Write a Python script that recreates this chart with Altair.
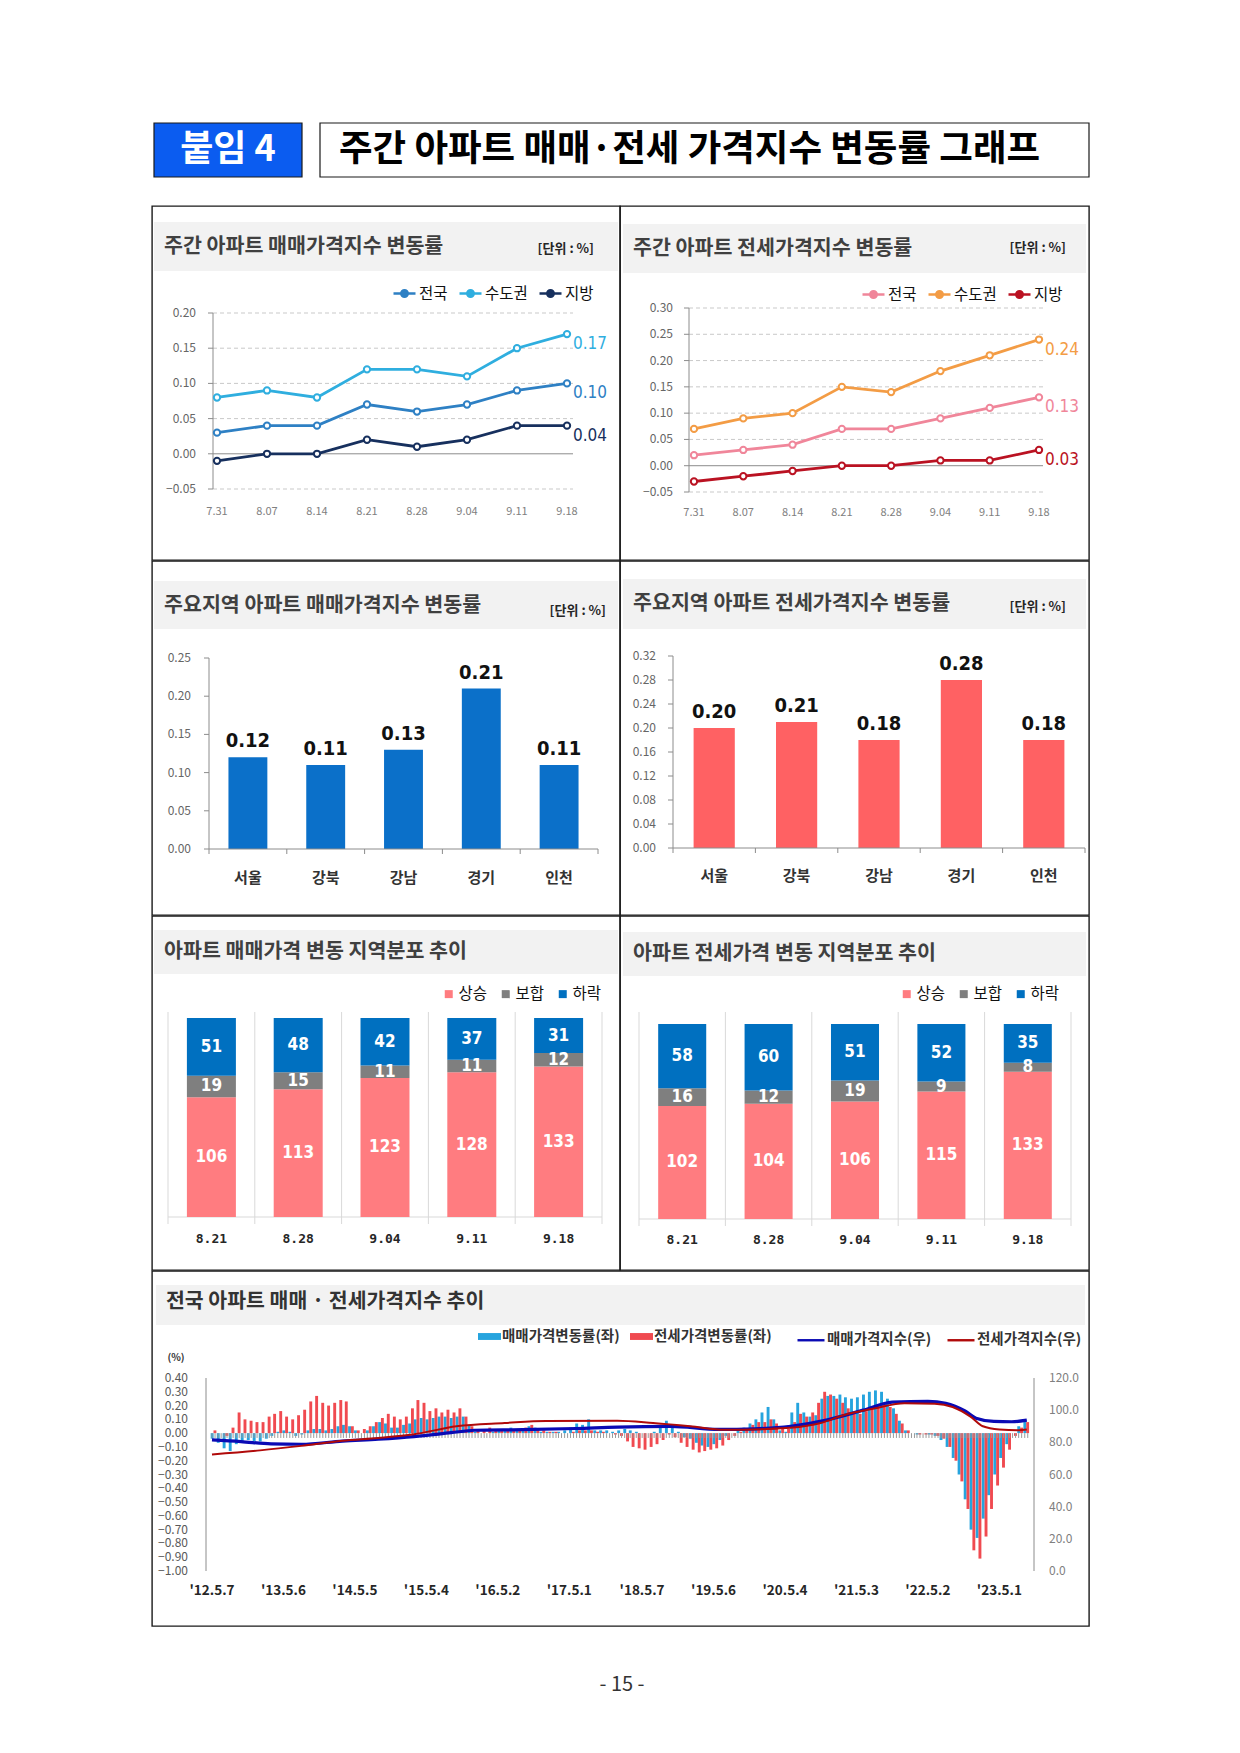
import altair as alt
import pandas as pd

KR = "Noto Sans CJK KR"
NARROW = "Liberation Sans Narrow, DejaVu Sans Condensed, Noto Sans CJK KR, sans-serif"
MONO = "DejaVu Sans Mono, monospace"

# ---------------- data ----------------
weeks = ["7.31", "8.07", "8.14", "8.21", "8.28", "9.04", "9.11", "9.18"]
area_names = ["전국", "수도권", "지방"]
sale_national = [0.03, 0.04, 0.04, 0.07, 0.06, 0.07, 0.09, 0.10]
sale_capital = [0.08, 0.09, 0.08, 0.12, 0.12, 0.11, 0.15, 0.17]
sale_local = [-0.01, 0.00, 0.00, 0.02, 0.01, 0.02, 0.04, 0.04]
jeonse_national = [0.02, 0.03, 0.04, 0.07, 0.07, 0.09, 0.11, 0.13]
jeonse_capital = [0.07, 0.09, 0.10, 0.15, 0.14, 0.18, 0.21, 0.24]
jeonse_local = [-0.03, -0.02, -0.01, 0.00, 0.00, 0.01, 0.01, 0.03]

regions = ["서울", "강북", "강남", "경기", "인천"]
sale_region = [0.12, 0.11, 0.13, 0.21, 0.11]
jeonse_region = [0.20, 0.21, 0.18, 0.28, 0.18]

dist_weeks = ["8.21", "8.28", "9.04", "9.11", "9.18"]
dist_cats = ["상승", "보합", "하락"]
sale_up = [106, 113, 123, 128, 133]
sale_flat = [19, 15, 11, 11, 12]
sale_down = [51, 48, 42, 37, 31]
jeonse_up = [102, 104, 106, 115, 133]
jeonse_flat = [16, 12, 19, 9, 8]
jeonse_down = [58, 60, 51, 52, 35]

# monthly change rates (%), May 2012 .. Sep 2023 (one line per year)
sale_rate = [
    -0.04, -0.07, -0.11, -0.13, -0.08, -0.06, -0.05, -0.06,
    -0.06, -0.04, -0.02, 0.01, 0.02, 0.01, -0.02, -0.01, 0.02, 0.03, 0.03, 0.02,
    0.03, 0.05, 0.06, 0.05, 0.02, 0.00, 0.02, 0.05, 0.08, 0.07, 0.04, 0.04,
    0.06, 0.07, 0.10, 0.11, 0.10, 0.11, 0.12, 0.12, 0.11, 0.12, 0.12, 0.06,
    0.01, 0.00, 0.00, 0.01, 0.02, 0.03, 0.04, 0.03, 0.03, 0.05, 0.04, 0.01,
    0.01, 0.01, 0.01, 0.02, 0.04, 0.07, 0.06, 0.10, 0.02, 0.02, 0.02, 0.01,
    0.02, 0.03, 0.02, 0.01, 0.00, 0.00, 0.01, 0.05, 0.09, 0.04, 0.01, -0.03,
    -0.04, -0.07, -0.09, -0.10, -0.08, -0.05, -0.02, 0.00, 0.02, 0.04, 0.07, 0.10,
    0.15, 0.19, 0.10, 0.02, 0.01, 0.15, 0.22, 0.15, 0.12, 0.13, 0.25, 0.27,
    0.27, 0.28, 0.26, 0.25, 0.26, 0.28, 0.30, 0.31, 0.30, 0.25, 0.18, 0.09,
    0.02, 0.00, -0.01, 0.00, -0.01, -0.02, -0.05, -0.10, -0.18, -0.30, -0.48, -0.70,
    -0.76, -0.62, -0.45, -0.30, -0.18, -0.08, 0.00, 0.05, 0.09,
]
jeonse_rate = [
    0.02, 0.00, -0.02, 0.04, 0.15, 0.10, 0.09, 0.08,
    0.08, 0.12, 0.14, 0.16, 0.12, 0.10, 0.13, 0.17, 0.23, 0.27, 0.22, 0.20,
    0.22, 0.24, 0.23, 0.05, 0.02, 0.03, 0.05, 0.08, 0.11, 0.14, 0.12, 0.10,
    0.12, 0.18, 0.24, 0.22, 0.16, 0.18, 0.15, 0.17, 0.15, 0.18, 0.12, 0.05,
    0.03, 0.03, 0.04, 0.03, 0.02, 0.02, 0.02, 0.03, 0.04, 0.06, 0.03, 0.02,
    0.01, 0.01, 0.00, 0.00, 0.01, 0.02, 0.02, 0.02, 0.01, 0.01, 0.00, -0.01,
    -0.02, -0.06, -0.10, -0.11, -0.12, -0.10, -0.08, -0.05, -0.01, -0.03, -0.07, -0.10,
    -0.12, -0.14, -0.13, -0.12, -0.11, -0.09, -0.05, -0.02, 0.01, 0.03, 0.06, 0.08,
    0.08, 0.10, 0.07, 0.04, 0.03, 0.08, 0.14, 0.12, 0.15, 0.22, 0.30, 0.28,
    0.25, 0.22, 0.18, 0.15, 0.14, 0.16, 0.18, 0.21, 0.22, 0.19, 0.14, 0.07,
    0.02, 0.00, -0.01, -0.01, -0.01, -0.02, -0.04, -0.10, -0.20, -0.35, -0.55, -0.85,
    -0.91, -0.75, -0.55, -0.38, -0.25, -0.12, -0.02, 0.04, 0.08,
]
months = [f"{y}-{m:02d}-15" for y in range(2012, 2024) for m in range(1, 13)
          if (2012, 5) <= (y, m) <= (2023, 9)]

sale_index_dates = ["2012-05-07", "2012-10-01", "2013-03-04", "2013-08-05", "2014-03-03",
                    "2014-09-01", "2015-03-02", "2015-09-07", "2016-01-04", "2016-09-05",
                    "2017-06-05", "2018-01-01", "2018-10-01", "2019-06-03", "2019-12-02",
                    "2020-06-01", "2020-12-07", "2021-06-07", "2021-11-01", "2022-05-02",
                    "2022-08-01", "2022-11-07", "2023-01-02", "2023-04-03", "2023-07-03",
                    "2023-09-18"]
sale_index = [81.5, 80.5, 79.0, 78.8, 80.8, 82.0, 83.6, 86.0, 87.5, 87.9, 88.6, 89.5, 89.9,
              88.0, 88.4, 90.0, 94.0, 100.0, 105.0, 105.5, 104.3, 99.5, 95.0, 93.0, 92.8, 93.8]
jeonse_index_dates = ["2012-05-07", "2013-01-07", "2013-08-05", "2014-03-03", "2014-09-01",
                      "2015-03-02", "2015-10-05", "2016-06-06", "2017-01-02", "2018-01-01",
                      "2018-07-02", "2019-01-07", "2019-07-01", "2020-01-06", "2020-06-01",
                      "2020-11-02", "2021-03-01", "2021-08-02", "2022-01-03", "2022-06-06",
                      "2022-09-05", "2022-12-05", "2023-02-06", "2023-05-01", "2023-08-07",
                      "2023-09-18"]
jeonse_index = [72.5, 75.0, 77.8, 81.0, 82.7, 85.0, 90.0, 92.0, 93.3, 93.4, 92.0, 90.0, 87.8,
                88.2, 89.0, 92.0, 97.0, 101.0, 104.3, 104.0, 102.0, 96.0, 90.0, 88.0, 87.5, 88.0]

tick_dates = ["2012-05-07", "2013-05-06", "2014-05-05", "2015-05-04", "2016-05-02", "2017-05-01",
              "2018-05-07", "2019-05-06", "2020-05-04", "2021-05-03", "2022-05-02", "2023-05-01"]
tick_texts = ["'12.5.7", "'13.5.6", "'14.5.5", "'15.5.4", "'16.5.2", "'17.5.1",
              "'18.5.7", "'19.5.6", "'20.5.4", "'21.5.3", "'22.5.2", "'23.5.1"]

PANEL_VIEW = alt.ViewBackground(stroke="#1a1a1a", strokeWidth=1.4)
NO_VIEW = alt.ViewBackground(stroke="transparent", strokeWidth=0)
GRAY_BAND = "#F2F2F2"
TITLE_SIZE = 20.6
LINE_SYM = "M-1,0H-0.3M0.3,0H1M0.3,0A0.3,0.3,0,1,1,-0.3,0A0.3,0.3,0,1,1,0.3,0Z"


def dummy():
    return pd.DataFrame({"k": [0]})


def rect(x1, x2, y1, y2, fill, stroke="transparent", sw=0):
    return alt.Chart(dummy()).mark_rect(fill=fill, stroke=stroke, strokeWidth=sw).encode(
        x=alt.value(x1), x2=alt.value(x2), y=alt.value(y1), y2=alt.value(y2))


def text(s, x, y, size, color="#404040", weight="bold", align="left", font=KR):
    return alt.Chart(pd.DataFrame({"t": [s]})).mark_text(
        align=align, baseline="middle", fontSize=size, fontWeight=weight, color=color, font=font
    ).encode(x=alt.value(x), y=alt.value(y), text="t:N")


def line_panel(width, series, colors, ydom, yticks, yrng, xrng, axis_x, grid_x2, lab_x, xlab_y,
               band_box, title, title_xy, unit_xy, leg_xy):
    rows = [{"week": w, "series": n, "value": v}
            for n, vals in zip(area_names, series) for w, v in zip(weeks, vals)]
    df = pd.DataFrame(rows)
    last = df[df["week"] == weeks[-1]]
    xs = alt.Scale(type="point", domain=weeks, range=xrng, padding=0)
    ys = alt.Scale(domain=ydom, range=yrng)
    cs = alt.Scale(domain=area_names, range=colors)
    X = alt.X("week:N", scale=xs, axis=None)
    Y = alt.Y("value:Q", scale=ys, axis=None)
    tk = pd.DataFrame({"v": yticks})
    TY = alt.Y("v:Q", scale=ys, axis=None)
    leg = alt.Legend(orient="none", legendX=leg_xy[0], legendY=leg_xy[1], direction="horizontal",
                     title=None, symbolType=LINE_SYM, symbolSize=484, symbolStrokeWidth=2.4,
                     symbolFillColor="white", labelFont=KR, labelFontSize=15.5, labelColor="#111",
                     labelOffset=2, columnPadding=6, padding=0)
    layers = [
        rect(*band_box, fill=GRAY_BAND),
        text(title, *title_xy, TITLE_SIZE),
        text("[단위 : %]", *unit_xy, 13, color="#262626", align="right"),
        alt.Chart(tk).transform_filter("datum.v != 0").mark_rule(
            color="#C9C9C9", strokeDash=[4, 3]).encode(y=TY, x=alt.value(axis_x), x2=alt.value(grid_x2)),
        alt.Chart(dummy()).mark_rule(color="#8C8C8C").encode(
            y=alt.YDatum(0, scale=ys, axis=None), x=alt.value(axis_x), x2=alt.value(grid_x2)),
        alt.Chart(dummy()).mark_rule(color="#8C8C8C").encode(
            y=alt.YDatum(ydom[0], scale=ys, axis=None), y2=alt.Y2Datum(ydom[1]), x=alt.value(axis_x)),
        alt.Chart(tk).mark_rule(color="#8C8C8C").encode(
            y=TY, x=alt.value(axis_x - 5), x2=alt.value(axis_x)),
        alt.Chart(tk).mark_text(align="right", baseline="middle", fontSize=12, color="#666666",
                                font=KR).encode(y=TY, x=alt.value(lab_x),
                                                text=alt.Text("v:Q", format=".2f")),
        alt.Chart(pd.DataFrame({"week": weeks})).mark_text(
            baseline="middle", fontSize=11, color="#808080", font=KR).encode(
            x=X, y=alt.value(xlab_y), text="week:N"),
        alt.Chart(df).mark_line(strokeWidth=2.8).encode(
            x=X, y=Y, color=alt.Color("series:N", scale=cs, legend=leg)),
        alt.Chart(df).mark_point(filled=False, fill="white", size=40, strokeWidth=2, opacity=1).encode(
            x=X, y=Y, color=alt.Color("series:N", scale=cs, legend=None)),
        alt.Chart(last).mark_text(align="left", baseline="middle", dx=6, dy=10, fontSize=17,
                                  font=NARROW).encode(
            x=X, y=Y, color=alt.Color("series:N", scale=cs, legend=None),
            text=alt.Text("value:Q", format=".2f")),
    ]
    return alt.layer(*layers).properties(width=width, height=354, view=PANEL_VIEW)


def bar_panel(width, values, color, ydom, yticks, yrng, xrng, axis_x, lab_x, cat_y,
              band_box, title, title_xy, unit_xy):
    df = pd.DataFrame({"region": regions, "value": values})
    xs = alt.Scale(type="band", domain=regions, range=xrng, paddingInner=0.5, paddingOuter=0.25)
    ys = alt.Scale(domain=ydom, range=yrng)
    half = (xrng[1] - xrng[0]) / 5 / 2
    X = alt.X("region:N", scale=xs, axis=None)
    Y = alt.Y("value:Q", scale=ys, axis=None)
    tk = pd.DataFrame({"v": yticks})
    TY = alt.Y("v:Q", scale=ys, axis=None)
    base = yrng[0]
    layers = [
        rect(*band_box, fill=GRAY_BAND),
        text(title, *title_xy, TITLE_SIZE),
        text("[단위 : %]", *unit_xy, 13, color="#262626", align="right"),
        alt.Chart(df).mark_bar(color=color).encode(x=X, y=Y),
        alt.Chart(df).mark_text(baseline="bottom", dy=-6, fontSize=20, fontWeight="bold",
                                font=NARROW, color="#111111").encode(
            x=X, y=Y, text=alt.Text("value:Q", format=".2f")),
        alt.Chart(dummy()).mark_rule(color="#8C8C8C").encode(
            y=alt.YDatum(ydom[0], scale=ys, axis=None), y2=alt.Y2Datum(ydom[1]), x=alt.value(axis_x)),
        alt.Chart(tk).mark_rule(color="#8C8C8C").encode(
            y=TY, x=alt.value(axis_x - 5), x2=alt.value(axis_x)),
        alt.Chart(tk).mark_text(align="right", baseline="middle", fontSize=12, color="#666666",
                                font=KR).encode(y=TY, x=alt.value(lab_x),
                                                text=alt.Text("v:Q", format=".2f")),
        alt.Chart(dummy()).mark_rule(color="#8C8C8C").encode(
            y=alt.YDatum(0, scale=ys, axis=None), x=alt.value(xrng[0]), x2=alt.value(xrng[1])),
        alt.Chart(df).mark_rule(color="#8C8C8C", xOffset=-half).encode(
            x=X, y=alt.value(base), y2=alt.value(base + 5)),
        alt.Chart(df.tail(1)).mark_rule(color="#8C8C8C", xOffset=half).encode(
            x=X, y=alt.value(base), y2=alt.value(base + 5)),
        alt.Chart(df).mark_text(baseline="middle", fontSize=15, fontWeight="bold",
                                color="#333333", font=KR).encode(
            x=X, y=alt.value(cat_y), text="region:N"),
    ]
    return alt.layer(*layers).properties(width=width, height=354, view=PANEL_VIEW)


def dist_panel(width, up, flat, down, yrng, xrng, pad_inner, sep_y, xlab_y,
               band_box, title, title_xy, leg_xy):
    rows = []
    for i, w in enumerate(dist_weeks):
        for o, (c, vals) in enumerate(zip(dist_cats, [up, flat, down])):
            rows.append({"week": w, "cat": c, "value": vals[i], "ord": o})
    df = pd.DataFrame(rows)
    xs = alt.Scale(type="band", domain=dist_weeks, range=xrng,
                   paddingInner=pad_inner, paddingOuter=pad_inner / 2)
    ys = alt.Scale(domain=[0, 176], range=yrng)
    half = (xrng[1] - xrng[0]) / 5 / 2
    X = alt.X("week:N", scale=xs, axis=None)
    cs = alt.Scale(domain=dist_cats, range=["#FF7C80", "#7F7F7F", "#0070C0"])
    leg = alt.Legend(orient="none", legendX=leg_xy[0], legendY=leg_xy[1], direction="horizontal",
                     title=None, symbolType="square", symbolSize=64, symbolStrokeWidth=0,
                     labelFont=KR, labelFontSize=15.5, labelColor="#111", labelOffset=2,
                     columnPadding=10, padding=0)
    wk = pd.DataFrame({"week": dist_weeks})
    layers = [
        rect(*band_box, fill=GRAY_BAND),
        text(title, *title_xy, TITLE_SIZE),
        alt.Chart(wk).mark_rule(color="#D9D9D9", xOffset=-half).encode(
            x=X, y=alt.value(sep_y[0]), y2=alt.value(sep_y[1])),
        alt.Chart(wk.tail(1)).mark_rule(color="#D9D9D9", xOffset=half).encode(
            x=X, y=alt.value(sep_y[0]), y2=alt.value(sep_y[1])),
        alt.Chart(dummy()).mark_rule(color="#D9D9D9").encode(
            y=alt.YDatum(0, scale=ys, axis=None), x=alt.value(xrng[0]), x2=alt.value(xrng[1])),
        alt.Chart(df).mark_bar().encode(
            x=X, y=alt.Y("value:Q", stack="zero", scale=ys, axis=None),
            order=alt.Order("ord:Q", sort="ascending"),
            color=alt.Color("cat:N", scale=cs, legend=leg)),
        alt.Chart(df).transform_stack(
            stack="value", as_=["y0", "y1"], groupby=["week"],
            sort=[alt.SortField("ord", order="ascending")]
        ).transform_calculate(mid="(datum.y0 + datum.y1) / 2").mark_text(
            baseline="middle", fontSize=17, fontWeight="bold", color="white", font=NARROW).encode(
            x=X, y=alt.Y("mid:Q", scale=ys, axis=None), text="value:Q"),
        alt.Chart(wk).mark_text(baseline="middle", fontSize=13, fontWeight="bold",
                                color="#262626", font=MONO).encode(
            x=X, y=alt.value(xlab_y), text="week:N"),
    ]
    return alt.layer(*layers).properties(width=width, height=354, view=PANEL_VIEW)


# ---------------- row 1 ----------------
p1 = line_panel(468, [sale_national, sale_capital, sale_local],
                ["#2E80C4", "#2FAEDF", "#17305E"],
                [-0.05, 0.20], [-0.05, 0.0, 0.05, 0.10, 0.15, 0.20], [283, 107], [65, 415],
                61, 421, 44, 306, (2, 466, 16, 65),
                "주간 아파트 매매가격지수 변동률", (12, 41), (442, 43), (240, 75))
p2 = line_panel(469, [jeonse_national, jeonse_capital, jeonse_local],
                ["#F0869A", "#F39C45", "#BA1222"],
                [-0.05, 0.30], [-0.05, 0.0, 0.05, 0.10, 0.15, 0.20, 0.25, 0.30], [286, 102], [74, 419],
                69, 423, 53, 307, (3, 466, 18, 67),
                "주간 아파트 전세가격지수 변동률", (13, 43), (446, 42), (241, 76))

# ---------------- row 2 ----------------
p3 = bar_panel(468, sale_region, "#0B70C9", [0, 0.25], [0, 0.05, 0.10, 0.15, 0.20, 0.25],
               [288, 97], [57, 446], 57, 39, 317, (2, 466, 20, 68),
               "주요지역 아파트 매매가격지수 변동률", (12, 45), (454, 50))
p4 = bar_panel(469, jeonse_region, "#FF6163", [0, 0.32],
               [0, 0.04, 0.08, 0.12, 0.16, 0.20, 0.24, 0.28, 0.32],
               [287, 95], [53, 465], 53, 36, 315, (3, 466, 18, 68),
               "주요지역 아파트 전세가격지수 변동률", (13, 43), (446, 46))

# ---------------- row 3 ----------------
p5 = dist_panel(468, sale_up, sale_flat, sale_down, [301, 102], [16, 450], 0.4355, (96, 308), 323,
                (2, 466, 14, 58), "아파트 매매가격 변동 지역분포 추이", (12, 36), (289, 70))
p6 = dist_panel(469, jeonse_up, jeonse_flat, jeonse_down, [303, 108], [19, 451], 0.444, (96, 310), 324,
                (3, 466, 16, 60), "아파트 전세가격 변동 지역분포 추이", (13, 38), (279, 70))

# ---------------- row 4 ----------------
rates = pd.DataFrame({"date": months, "sale": sale_rate, "jeonse": jeonse_rate})
sidx = pd.DataFrame({"date": sale_index_dates, "value": sale_index})
jidx = pd.DataFrame({"date": jeonse_index_dates, "value": jeonse_index})
xs7 = alt.Scale(type="time",
                domain=[alt.DateTime(year=2012, month=4, date=30, utc=True),
                        alt.DateTime(year=2023, month=9, date=25, utc=True)],
                range=[53.6, 881.2])
yl = alt.Scale(domain=[-1.0, 0.4], range=[300, 107])
yr = alt.Scale(domain=[0, 120], range=[300, 107])
X7 = alt.X("date:T", scale=xs7, axis=None)
fill_names = ["매매가격변동률(좌)", "전세가격변동률(좌)"]
stroke_names = ["매매가격지수(우)", "전세가격지수(우)"]
fill_sc = alt.Scale(domain=fill_names, range=["#26A4DE", "#F04A50"])
stroke_sc = alt.Scale(domain=stroke_names, range=["#0A0AB4", "#B00A0A"])
fill_leg = alt.Legend(orient="none", legendX=326, legendY=54, direction="horizontal", title=None,
                      symbolType="M-1,-0.3H1V0.3H-1Z", symbolSize=529, symbolStrokeWidth=0,
                      labelFont=KR, labelFontSize=14.5, labelFontWeight="bold", labelColor="#333333",
                      labelOffset=1, columnPadding=10, padding=0, labelLimit=220)
stroke_leg = alt.Legend(orient="none", legendX=644, legendY=54, direction="horizontal", title=None,
                        symbolType="stroke", symbolSize=729, symbolStrokeWidth=2.4,
                        labelFont=KR, labelFontSize=14.5, labelFontWeight="bold",
                        labelColor="#333333", labelOffset=1, columnPadding=10, padding=0,
                        labelLimit=220)
left_ticks = pd.DataFrame({"v": [0.4, 0.3, 0.2, 0.1, 0.0, -0.1, -0.2, -0.3, -0.4, -0.5,
                                 -0.6, -0.7, -0.8, -0.9, -1.0]})
right_ticks = pd.DataFrame({"v": [0, 20, 40, 60, 80, 100, 120]})
xt = pd.DataFrame({"date": tick_dates, "label": tick_texts})

p7 = alt.layer(
    rect(4, 933, 14, 54, fill=GRAY_BAND),
    text("전국 아파트 매매 · 전세가격지수 추이", 14, 31, 20.5, color="#333333"),
    text("(%)", 24, 87, 10, color="#333333", align="center"),
    alt.Chart(rates).transform_calculate(kind="'매매가격변동률(좌)'").mark_bar(
        width=2.9, xOffset=-1.4).encode(
        x=X7, y=alt.Y("sale:Q", scale=yl, axis=None),
        fill=alt.Fill("kind:N", scale=fill_sc, legend=fill_leg)),
    alt.Chart(rates).transform_calculate(kind="'전세가격변동률(좌)'").mark_bar(
        width=2.9, xOffset=1.4).encode(
        x=X7, y=alt.Y("jeonse:Q", scale=yl, axis=None),
        fill=alt.Fill("kind:N", scale=fill_sc, legend=fill_leg)),
    alt.Chart(rates).mark_rule(color="#9A9A9A", xOffset=-1.5).encode(
        x=X7, y=alt.YDatum(0, scale=yl, axis=None), y2=alt.Y2Datum(-0.035)),
    alt.Chart(rates).mark_rule(color="#9A9A9A", xOffset=1.5).encode(
        x=X7, y=alt.YDatum(0, scale=yl, axis=None), y2=alt.Y2Datum(-0.035)),
    alt.Chart(sidx).transform_calculate(kind="'매매가격지수(우)'").mark_line(
        strokeWidth=3.2, interpolate="monotone").encode(
        x=X7, y=alt.Y("value:Q", scale=yr, axis=None),
        stroke=alt.Stroke("kind:N", scale=stroke_sc, legend=stroke_leg)),
    alt.Chart(jidx).transform_calculate(kind="'전세가격지수(우)'").mark_line(
        strokeWidth=2, interpolate="monotone").encode(
        x=X7, y=alt.Y("value:Q", scale=yr, axis=None),
        stroke=alt.Stroke("kind:N", scale=stroke_sc, legend=stroke_leg)),
    alt.Chart(dummy()).mark_rule(color="#8C8C8C").encode(
        y=alt.YDatum(-1.0, scale=yl, axis=None), y2=alt.Y2Datum(0.4), x=alt.value(54)),
    alt.Chart(dummy()).mark_rule(color="#8C8C8C").encode(
        y=alt.YDatum(0, scale=yr, axis=None), y2=alt.Y2Datum(120), x=alt.value(882)),
    alt.Chart(left_ticks).mark_text(align="right", baseline="middle", fontSize=12,
                                    color="#595959", font=KR).encode(
        y=alt.Y("v:Q", scale=yl, axis=None), x=alt.value(36),
        text=alt.Text("v:Q", format=".2f")),
    alt.Chart(right_ticks).mark_text(align="left", baseline="middle", fontSize=12,
                                     color="#808080", font=KR).encode(
        y=alt.Y("v:Q", scale=yr, axis=None), x=alt.value(897),
        text=alt.Text("v:Q", format=".1f")),
    alt.Chart(xt).mark_text(baseline="middle", fontSize=13.5, fontWeight="bold",
                            color="#262626", font=KR).encode(
        x=X7, y=alt.value(320), text="label:N"),
).resolve_scale(y="independent").properties(width=937, height=355, view=PANEL_VIEW)

# ---------------- header / footer ----------------
header = alt.layer(
    rect(2, 150, 115, 169, fill="#0B5CF0", stroke="#1a1a1a", sw=1.2),
    text("붙임 4", 76, 142, 36, color="white", align="center"),
    rect(168, 937, 115, 169, fill="white", stroke="#1a1a1a", sw=1.2),
    text("주간 아파트 매매·전세 가격지수 변동률 그래프", 187, 142, 36.5, color="#000000"),
).properties(width=937, height=198, view=NO_VIEW)

footer = alt.layer(
    text("- 15 -", 470, 58, 20, color="#333333", weight="normal", align="center"),
).properties(width=937, height=90, view=NO_VIEW)

IND = dict(color="independent", fill="independent", stroke="independent",
           x="independent", y="independent")
LEG = dict(color="independent", fill="independent", stroke="independent")
row1 = alt.hconcat(p1, p2, spacing=0, bounds="flush").resolve_scale(**IND).resolve_legend(**LEG)
row2 = alt.hconcat(p3, p4, spacing=0, bounds="flush").resolve_scale(**IND).resolve_legend(**LEG)
row3 = alt.hconcat(p5, p6, spacing=0, bounds="flush").resolve_scale(**IND).resolve_legend(**LEG)

chart = alt.vconcat(header, row1, row2, row3, p7, footer, spacing=-1.4).resolve_scale(
    **IND).resolve_legend(**LEG).properties(
    padding={"left": 143, "top": 0, "right": 0, "bottom": 0}
).configure_view(stroke="transparent", strokeWidth=0).configure(font=KR)

chart.save("out.html", embed_options={"renderer": "svg", "actions": False})
